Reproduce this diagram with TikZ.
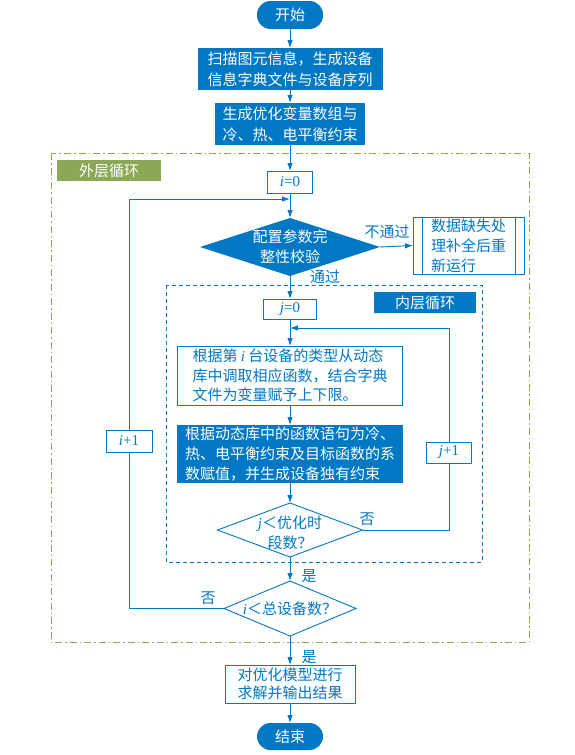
\documentclass[tikz,border=0pt]{standalone}
\usepackage{fontspec}
\setmainfont{Liberation Serif}
\newfontfamily\cjk{Noto Sans CJK SC}
\usetikzlibrary{shapes.geometric,arrows.meta}
\definecolor{fblue}{RGB}{0,120,196}
\definecolor{olivec}{RGB}{140,168,84}
\newcommand{\vi}[1]{{\rmfamily\itshape #1}}
\newcommand{\vr}[1]{{\rmfamily #1}}
\begin{document}
\begin{tikzpicture}[x=1pt,y=-1pt,
 base/.style={inner sep=0pt, outer sep=0pt, font=\cjk\fontsize{15}{20}\selectfont, align=center},
 fbox/.style={base, rectangle, fill=fblue, text=white},
 wbox/.style={base, rectangle, draw=fblue, line width=0.9pt, fill=white, text=fblue},
 pill/.style={fbox, rounded corners=13.5pt},
 dia/.style={diamond, inner sep=0pt, outer sep=0pt, aspect=1},
 arr/.style={draw=fblue, line width=0.9pt, -{Latex[length=8pt,width=5.5pt]}},
 ln/.style={draw=fblue, line width=0.9pt},
 lab/.style={font=\cjk\fontsize{15}{18}\selectfont, text=fblue, inner sep=0pt},
]
\useasboundingbox (0,0) rectangle (575,755);
% outer loop frame
\draw[olivec, line width=0.9pt, dash pattern=on 7pt off 3pt on 1.5pt off 3pt] (51,153) rectangle (529,642);
\node[base, fill=olivec, text=white, minimum width=104pt, minimum height=21pt] (outl) at (109,170.5) {外层循环};
% inner loop frame
\draw[fblue, line width=0.9pt, dash pattern=on 4pt off 3pt] (166,285) rectangle (482,562);
\node[fbox, minimum width=102pt, minimum height=21pt] (inl) at (425,302.5) {内层循环};

\node[pill, minimum width=66pt, minimum height=28pt] (start) at (290,15) {开始};
\node[fbox, minimum width=185pt, minimum height=42pt, font=\cjk\fontsize{15}{21}\selectfont] (b1) at (290,69) {扫描图元信息，生成设备\\信息字典文件与设备序列};
\node[fbox, minimum width=150pt, minimum height=42pt, font=\cjk\fontsize{15}{21}\selectfont] (b2) at (290,124) {生成优化变量数组与\\冷、热、电平衡约束};
\node[wbox, minimum width=45pt, minimum height=22pt] (i0) at (290,182) {\vi{i}\vr{=0}};
\node[dia, fill=fblue, minimum width=180pt, minimum height=58pt] (d1) at (290,247) {};
\node[base, text=white] (d1t) at (290,247) {配置参数完\\整性校验};
\node[wbox, minimum width=111pt, minimum height=57pt, align=left] (err) at (468.5,245.5) {数据缺失处\\理补全后重\\新运行};
\draw[fblue, line width=0.9pt] ([xshift=9pt]err.north west) -- ([xshift=9pt]err.south west)
  ([xshift=-9pt]err.north east) -- ([xshift=-9pt]err.south east);
\node[wbox, minimum width=53pt, minimum height=20pt] (j0) at (290,309) {\vi{j}\vr{=0}};
\node[wbox, minimum width=225pt, minimum height=59pt, align=left, font=\cjk\fontsize{15}{19.5}\selectfont] (b3) at (290,375.5) {根据第 \vi{i} 台设备的类型从动态\\库中调取相应函数，结合字典\\文件为变量赋予上下限。};
\node[fbox, minimum width=226pt, minimum height=58pt, align=left] (b4) at (290,454) {根据动态库中的函数语句为冷、\\热、电平衡约束及目标函数的系\\数赋值，并生成设备独有约束};
\node[dia, draw=fblue, line width=0.9pt, fill=white, minimum width=145pt, minimum height=54pt] (d2) at (290,530) {};
\node[base, text=fblue] (d2t) at (290,533) {\vi{j}＜优化时\\段数？};
\node[dia, draw=fblue, line width=0.9pt, fill=white, minimum width=132pt, minimum height=55pt] (d3) at (290,608.5) {};
\node[base, text=fblue] (d3t) at (290,609) {\vi{i}＜总设备数？};
\node[wbox, minimum width=130pt, minimum height=38pt, font=\cjk\fontsize{15}{18}\selectfont] (fin) at (290,684) {对优化模型进行\\求解并输出结果};
\node[pill, minimum width=66pt, minimum height=27pt] (end) at (290,736.5) {结束};
\node[wbox, minimum width=45pt, minimum height=21pt] (jp) at (449,452.5) {\vi{j}\vr{+1}};
\node[wbox, minimum width=46pt, minimum height=22pt] (ip) at (129,441) {\vi{i}\vr{+1}};

\coordinate (im) at (290,199);
\coordinate (jm) at (290,328);

% connectors
\draw[arr] (start.south) -- (b1.north);
\draw[arr] (b1.south) -- (b2.north);
\draw[arr] (b2.south) -- (i0.north);
\draw[arr] (i0.south) -- (d1.north);
\draw[arr] (d1.east) -- (err.west);
\node[lab] (lno) at (387,232) {不通过};
\draw[arr] (d1.south) -- (j0.north);
\node[lab] (lpass) at (325,277) {通过};
\draw[arr] (j0.south) -- (b3.north);
\draw[arr] (b3.south) -- (b4.north);
\draw[arr] (b4.south) -- (d2.north);
\draw[ln] (d2.east) -| (jp.south);
\draw[arr] (jp.north) |- (jm);
\node[lab] (lf1) at (367,519) {否};
\draw[arr] (d2.south) -- (d3.north);
\node[lab] (ly1) at (309,576) {是};
\draw[ln] (d3.west) -| (ip.south);
\draw[arr] (ip.north) |- (im);
\node[lab] (lf2) at (208,598) {否};
\draw[arr] (d3.south) -- (fin.north);
\node[lab] (ly2) at (309,657) {是};
\draw[arr] (fin.south) -- (end.north);
\end{tikzpicture}
\end{document}
